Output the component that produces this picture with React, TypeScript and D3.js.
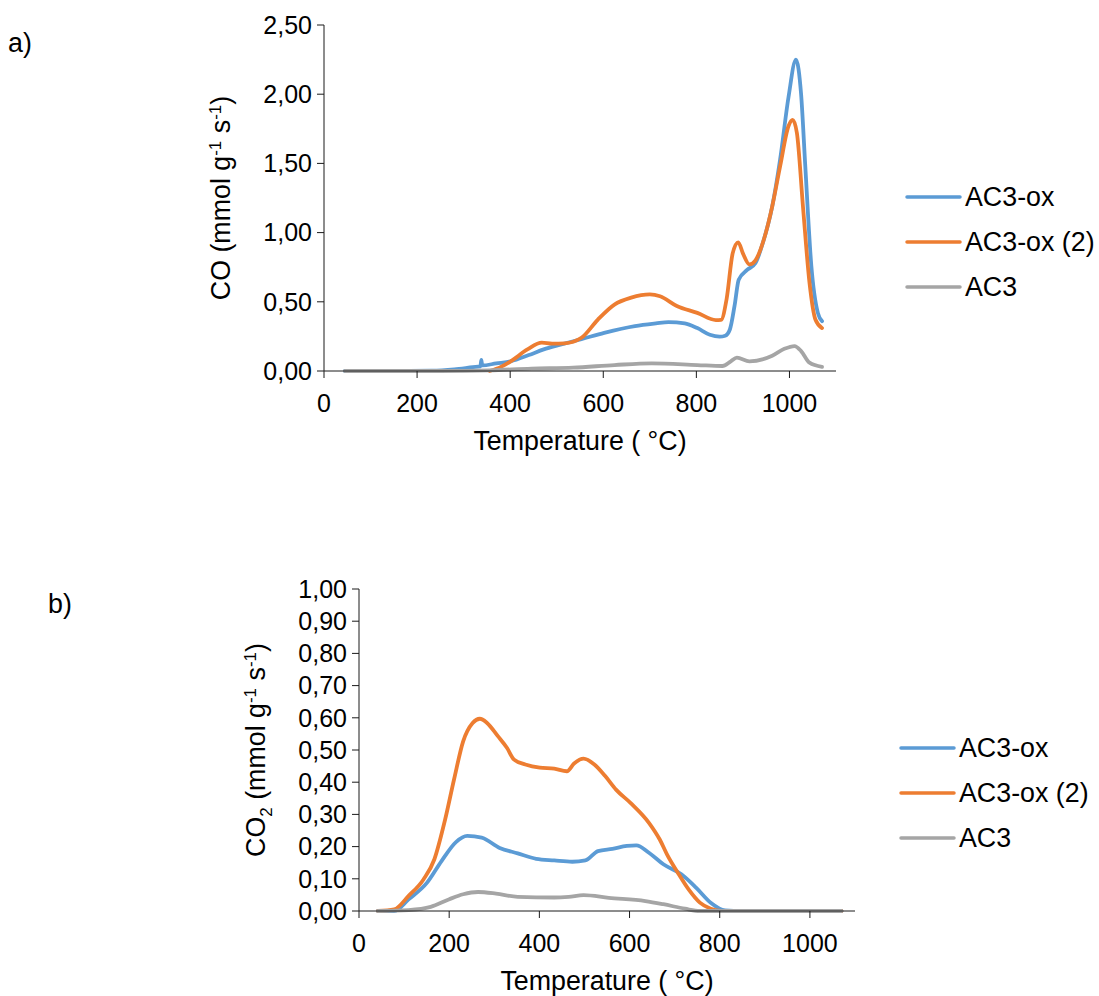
import React from 'react';
import * as d3 from 'd3';

// CO desorption (top chart), [temperature °C, mmol g-1 s-1]
const coAc3ox: [number, number][] = [
  [45, 0], [150, 0], [232, 0.002], [280, 0.012], [320, 0.028], [336, 0.034], [338, 0.08], [340, 0.04],
  [370, 0.055], [401, 0.07], [440, 0.115], [472, 0.156], [508, 0.19], [553, 0.23], [602, 0.276],
  [668, 0.325], [713, 0.344], [740, 0.353], [775, 0.344], [802, 0.31], [829, 0.262], [850, 0.248],
  [862, 0.255], [872, 0.3], [882, 0.47], [891, 0.66], [909, 0.73], [927, 0.78], [945, 0.95],
  [963, 1.19], [980, 1.53], [998, 1.98], [1014, 2.25], [1025, 2.0], [1034, 1.48], [1047, 0.76],
  [1061, 0.42], [1070, 0.36],
];
const coAc3ox2: [number, number][] = [
  [356, 0], [380, 0.03], [401, 0.07], [437, 0.156], [468, 0.205], [490, 0.198], [517, 0.2],
  [553, 0.24], [588, 0.37], [624, 0.48], [660, 0.53], [700, 0.553], [722, 0.54], [758, 0.47],
  [802, 0.42], [842, 0.368], [853, 0.37], [865, 0.52], [878, 0.85], [890, 0.93], [900, 0.85],
  [914, 0.77], [927, 0.8], [945, 0.95], [963, 1.19], [980, 1.48], [998, 1.77], [1007, 1.815],
  [1016, 1.72], [1029, 1.19], [1043, 0.64], [1056, 0.37], [1070, 0.31],
];
const coAc3: [number, number][] = [
  [45, 0], [250, 0], [356, 0.005], [446, 0.017], [535, 0.024], [624, 0.043], [704, 0.055],
  [802, 0.043], [856, 0.036], [874, 0.07], [887, 0.096], [914, 0.07], [963, 0.11], [989, 0.16],
  [1011, 0.18], [1025, 0.144], [1043, 0.06], [1070, 0.03],
];

// CO2 desorption (bottom chart)
const co2Ac3ox: [number, number][] = [
  [42, 0], [78, 0], [110, 0.036], [151, 0.088], [183, 0.155], [215, 0.214], [240, 0.233],
  [272, 0.228], [312, 0.196], [352, 0.179], [393, 0.162], [433, 0.157], [473, 0.153], [502, 0.157],
  [530, 0.186], [562, 0.193], [594, 0.202], [615, 0.204], [643, 0.181], [675, 0.145], [715, 0.114],
  [748, 0.072], [780, 0.026], [812, 0.002], [850, 0], [1070, 0],
];
const co2Ac3ox2: [number, number][] = [
  [42, 0], [78, 0.005], [110, 0.047], [143, 0.098], [167, 0.16], [191, 0.284], [211, 0.41],
  [231, 0.527], [252, 0.584], [268, 0.597], [284, 0.584], [308, 0.543], [328, 0.507], [344, 0.47],
  [369, 0.455], [401, 0.445], [433, 0.442], [461, 0.434], [477, 0.458], [498, 0.473], [522, 0.455],
  [546, 0.419], [570, 0.377], [602, 0.336], [643, 0.274], [667, 0.222], [683, 0.176], [707, 0.119],
  [731, 0.067], [756, 0.026], [780, 0.007], [804, 0], [1070, 0],
];
const co2Ac3: [number, number][] = [
  [42, 0], [110, 0.003], [159, 0.013], [199, 0.036], [231, 0.052], [264, 0.059], [304, 0.054],
  [352, 0.044], [433, 0.042], [465, 0.044], [498, 0.049], [554, 0.041], [635, 0.031], [675, 0.021],
  [723, 0.007], [756, 0], [1070, 0],
];

const seriesNames = ['AC3-ox', 'AC3-ox (2)', 'AC3'];
const seriesColors = ['#5B9BD5', '#ED7D31', '#A5A5A5'];
const xTicks = [0, 200, 400, 600, 800, 1000];
const coTicks = [0, 0.5, 1, 1.5, 2, 2.5];
const co2Ticks = [0, 0.1, 0.2, 0.3, 0.4, 0.5, 0.6, 0.7, 0.8, 0.9, 1.0];

const FONT = '"Liberation Sans", Arial, sans-serif';
const FS = 25;   // tick labels
const FT = 26.8; // titles, legend
const fmt = (v: number) => d3.format('.2f')(v).replace('.', ',');

type PanelProps = {
  data: [number, number][][];
  yTicks: number[];
  yMax: number;
  x0: number; x1: number; yTop: number; yBot: number;
  yTitle: React.ReactNode;
  yTitleX: number;
  legendX: number; legendY: number;
};

const Panel = ({ data, yTicks, yMax, x0, x1, yTop, yBot, yTitle, yTitleX, legendX, legendY }: PanelProps) => {
  const x = d3.scaleLinear().domain([0, 1100]).range([x0, x1]);
  const y = d3.scaleLinear().domain([0, yMax]).range([yBot, yTop]);
  const line = d3.line<[number, number]>().x(d => x(d[0])).y(d => y(d[1])).curve(d3.curveMonotoneX);
  const axisColor = '#1a1a1a';
  return (
    <g fontFamily={FONT} fontSize={FS} fill="#000">
      {data.map((s, i) => (
        <path key={i} d={line(s) || ''} fill="none" stroke={seriesColors[i]} strokeWidth={3.8}
          strokeLinejoin="round" strokeLinecap="round" />
      ))}
      <line x1={x0} x2={x0} y1={yTop} y2={yBot} stroke={axisColor} />
      <line x1={x0} x2={x1} y1={yBot} y2={yBot} stroke={axisColor} />
      {yTicks.map(t => (
        <g key={t}>
          <line x1={x0 - 7} x2={x0} y1={y(t)} y2={y(t)} stroke={axisColor} />
          <text x={x0 - 12} y={y(t)} dy="0.35em" textAnchor="end">{fmt(t)}</text>
        </g>
      ))}
      {xTicks.map(t => (
        <g key={t}>
          <line x1={x(t)} x2={x(t)} y1={yBot} y2={yBot + 7} stroke={axisColor} />
          <text x={x(t)} y={yBot + 41} textAnchor="middle">{t}</text>
        </g>
      ))}
      <text x={(x0 + x1) / 2} y={yBot + 79} textAnchor="middle" fontSize={FT}>Temperature ( °C)</text>
      <text transform={`translate(${yTitleX},${(yTop + yBot) / 2}) rotate(-90)`} textAnchor="middle" fontSize={FT}>{yTitle}</text>
      {seriesNames.map((n, i) => (
        <g key={n} transform={`translate(${legendX},${legendY + i * 45})`}>
          <line x1={0} x2={53} y1={0} y2={0} stroke={seriesColors[i]} strokeWidth={3.5} strokeLinecap="round" />
          <text x={58} y={0} dy="0.35em" fontSize={FT}>{n}</text>
        </g>
      ))}
    </g>
  );
};

const sup = (s: string) => <tspan dy={-9} fontSize={17}>{s}</tspan>;
const back = (s: string) => <tspan dy={9}>{s}</tspan>;

export default function App() {
  return (
    <svg width={1099} height={996} style={{ position: 'absolute', left: 0, top: 0, background: '#fff' }}>
      <text x={8} y={52} fontFamily={FONT} fontSize={FT}>a)</text>
      <text x={48} y={613} fontFamily={FONT} fontSize={FT}>b)</text>
      <Panel
        data={[coAc3ox, coAc3ox2, coAc3]}
        yTicks={coTicks} yMax={2.5}
        x0={324} x1={836} yTop={25} yBot={371}
        yTitleX={230}
        yTitle={<>CO (mmol g{sup('-1')}{back(' s')}{sup('-1')}{back(')')}</>}
        legendX={907} legendY={197}
      />
      <Panel
        data={[co2Ac3ox, co2Ac3ox2, co2Ac3]}
        yTicks={co2Ticks} yMax={1}
        x0={359} x1={855} yTop={589} yBot={911}
        yTitleX={265}
        yTitle={<>CO<tspan dy={7} fontSize={17}>2</tspan><tspan dy={-7}> (mmol g</tspan>{sup('-1')}{back(' s')}{sup('-1')}{back(')')}</>}
        legendX={901} legendY={748}
      />
    </svg>
  );
}
